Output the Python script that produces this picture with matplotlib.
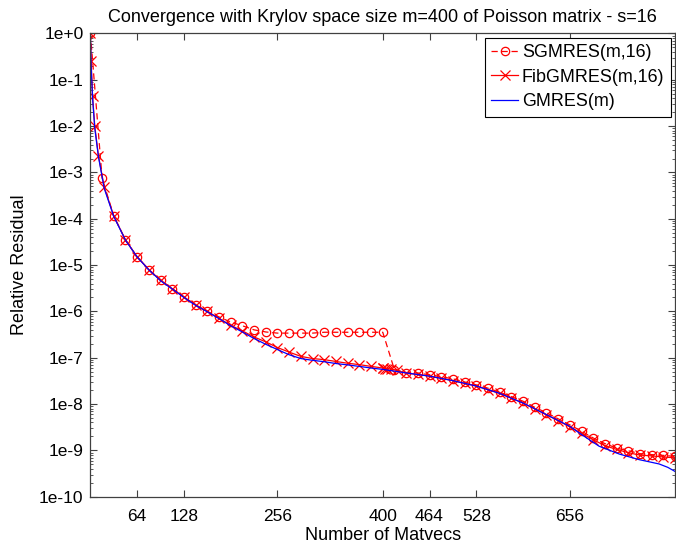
import numpy as np
import matplotlib
matplotlib.use("Agg")
import matplotlib.pyplot as plt
from matplotlib.ticker import FixedLocator, LogLocator, NullFormatter, NullLocator

plt.rcParams['font.family'] = ['Liberation Sans', 'DejaVu Sans']

# SGMRES(m,16): one point every s=16 matvecs
sg_x = [0, 16, 32, 48, 64, 80, 96, 112, 128, 144, 160, 176, 192, 208, 224, 240,
        256, 272, 288, 304, 320, 336, 352, 368, 384, 400,
        416, 432, 448, 464, 480, 496, 512, 528, 544, 560, 576, 592, 608, 624,
        640, 656, 672, 688, 704, 720, 736, 752, 768, 784, 800]
sg_y = [1.0, 7.6e-4, 1.15e-4, 3.5e-5, 1.5e-5, 8.0e-6, 4.7e-6, 3.1e-6, 2.05e-6,
        1.38e-6, 1.0e-6, 7.6e-7, 5.9e-7, 4.9e-7, 4.0e-7, 3.6e-7,
        3.4e-7, 3.4e-7, 3.4e-7, 3.4e-7, 3.55e-7, 3.55e-7, 3.55e-7, 3.55e-7, 3.55e-7, 3.55e-7,
        5.5e-8, 4.8e-8, 4.7e-8, 4.3e-8, 3.9e-8, 3.5e-8, 3.0e-8, 2.6e-8, 2.2e-8,
        1.8e-8, 1.45e-8, 1.15e-8, 8.5e-9, 6.5e-9, 4.8e-9, 3.55e-9, 2.6e-9,
        1.85e-9, 1.4e-9, 1.12e-9, 9.8e-10, 8.5e-10, 8.1e-10, 7.8e-10, 7.4e-10]

# FibGMRES(m,16): restart lengths follow Fibonacci numbers, capped at 16
fib_x = [0, 1, 3, 6, 11, 19, 32, 48, 64, 80, 96, 112, 128, 144, 160, 176, 192,
         208, 224, 240, 256, 272, 288, 304, 320, 336, 352, 368, 384, 400,
         401, 403, 406, 411, 419, 432, 448, 464, 480, 496, 512, 528, 544, 560,
         576, 592, 608, 624, 640, 656, 672, 688, 704, 720, 736, 752, 768, 784, 800]
fib_y = [1.0, 0.26, 0.044, 0.01, 2.3e-3, 4.8e-4, 1.15e-4, 3.5e-5, 1.5e-5, 8.0e-6,
         4.7e-6, 3.1e-6, 2.05e-6, 1.38e-6, 1.0e-6, 7.1e-7, 5.0e-7,
         3.8e-7, 2.8e-7, 2.2e-7, 1.66e-7, 1.32e-7, 1.07e-7, 9.6e-8, 9.1e-8,
         8.3e-8, 7.6e-8, 7.1e-8, 6.5e-8, 6.0e-8,
         5.9e-8, 5.85e-8, 5.8e-8, 5.7e-8, 5.4e-8, 4.6e-8, 4.4e-8, 4.0e-8, 3.6e-8,
         3.2e-8, 2.8e-8, 2.45e-8, 2.05e-8, 1.7e-8, 1.35e-8, 1.05e-8, 7.9e-9,
         5.9e-9, 4.4e-9, 3.2e-9, 2.35e-9, 1.7e-9, 1.26e-9, 1.05e-9, 8.9e-10,
         7.9e-10, 7.6e-10, 7.2e-10, 6.9e-10]

# GMRES(m), m=400
gm_x = [0, 1, 3, 6, 11, 19, 32, 48, 64, 80, 96, 112, 128, 144, 160, 176, 192,
        208, 224, 240, 256, 272, 288, 304, 320, 336, 352, 368, 384, 400, 432,
        464, 496, 528, 560, 592, 624, 656, 672, 696, 724, 751, 778, 790, 800]
gm_y = [1.0, 0.2, 0.04, 0.009, 2.2e-3, 4.5e-4, 1.12e-4, 3.45e-5, 1.5e-5, 7.9e-6,
        4.6e-6, 3.05e-6, 2.0e-6, 1.35e-6, 9.8e-7, 7.0e-7, 4.9e-7,
        3.6e-7, 2.6e-7, 1.95e-7, 1.5e-7, 1.16e-7, 9.6e-8, 8.8e-8, 8.2e-8,
        7.5e-8, 7.0e-8, 6.5e-8, 6.0e-8, 5.6e-8, 4.7e-8,
        4.0e-8, 3.2e-8, 2.45e-8, 1.7e-8, 1.05e-8, 5.9e-9, 3.3e-9, 2.2e-9,
        1.23e-9, 8.3e-10, 6.3e-10, 5.1e-10, 4.3e-10, 3.5e-10]

x_ticks = [64, 128, 256, 400, 464, 528, 656]
y_ticks = [1e-10, 1e-9, 1e-8, 1e-7, 1e-6, 1e-5, 1e-4, 1e-3, 1e-2, 1e-1, 1e0]
y_labels = ['1e-10', '1e-9', '1e-8', '1e-7', '1e-6', '1e-5', '1e-4',
            '1e-3', '1e-2', '1e-1', '1e+0']

fig = plt.figure(figsize=(6.76, 5.48), dpi=100)
ax = fig.add_axes([0.1337, 0.0936, 0.865, 0.8453])

ax.plot(sg_x, sg_y, color='red', linestyle=(0, (5, 3)), linewidth=0.9, marker='o',
        markersize=6, markerfacecolor='none', markeredgewidth=0.9,
        label='SGMRES(m,16)')
ax.plot(fib_x, fib_y, color='red', linestyle='-', linewidth=0.9, marker='x',
        markersize=7, markeredgewidth=0.9, label='FibGMRES(m,16)')
ax.plot(gm_x, gm_y, color='blue', linewidth=0.9, label='GMRES(m)')

ax.set_yscale('log')
ax.set_xlim(0, 800)
ax.set_ylim(1e-10, 1e0)

ax.xaxis.set_major_locator(FixedLocator(x_ticks))
ax.xaxis.set_minor_locator(NullLocator())
ax.set_xticklabels([str(t) for t in x_ticks])
ax.yaxis.set_major_locator(FixedLocator(y_ticks))
ax.set_yticklabels(y_labels)
ax.yaxis.set_minor_locator(LogLocator(base=10, subs=np.arange(2, 10), numticks=20))
ax.yaxis.set_minor_formatter(NullFormatter())

ax.tick_params(which='both', direction='in', top=True, right=True,
               labelsize=12.5, color='#404040')
ax.tick_params(which='major', length=5, width=0.8)
ax.tick_params(which='minor', length=2.5, width=0.6)
ax.tick_params(axis='x', which='major', pad=9)
ax.tick_params(axis='y', which='major', pad=5)
for sp in ax.spines.values():
    sp.set_color('#404040')
    sp.set_linewidth(0.9)

ax.set_title('Convergence with Krylov space size m=400 of Poisson matrix - s=16',
             fontsize=13, pad=8)
ax.set_xlabel('Number of Matvecs', fontsize=13, labelpad=2)
ax.set_ylabel('Relative Residual', fontsize=13, labelpad=8)

leg = ax.legend(loc='upper right', fontsize=12.9, fancybox=False, framealpha=1,
                edgecolor='black', handlelength=1.5, handletextpad=0.2,
                borderaxespad=0.25, labelspacing=0.42, borderpad=0.35)
leg.get_frame().set_linewidth(0.8)

fig.savefig('out.png', dpi=100)
